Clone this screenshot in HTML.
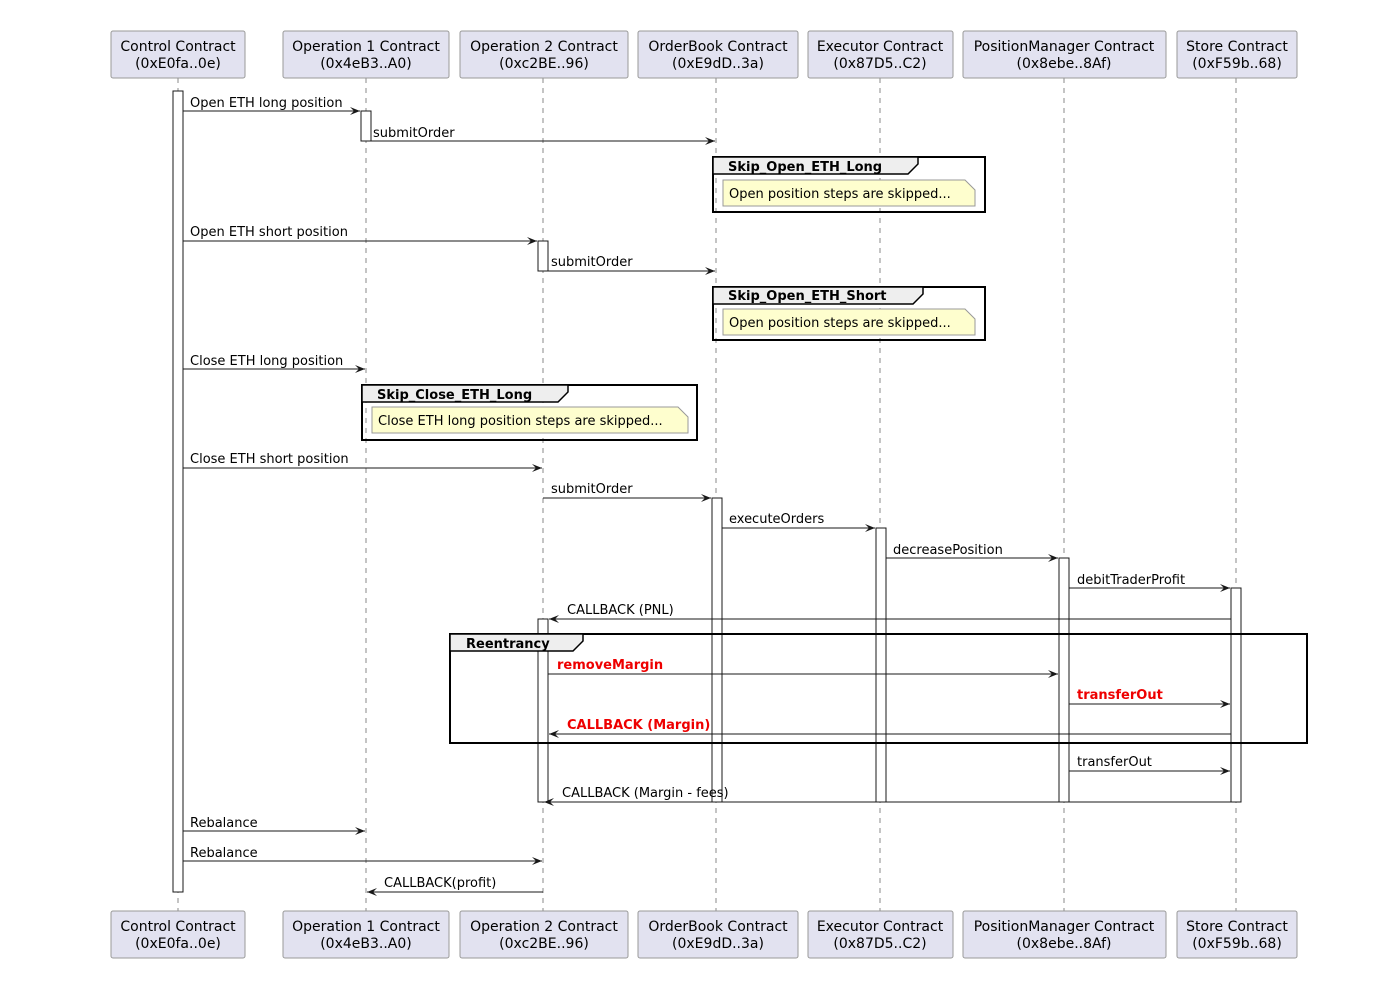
<!DOCTYPE html>
<html><head><meta charset="utf-8"><style>
body{margin:0;background:#fff}
svg{display:block}
text{font-family:"DejaVu Sans","Liberation Sans",sans-serif;font-size:13px;fill:#000}
.hd{font-size:14px;text-anchor:middle}
.b{font-weight:bold}
.r{fill:#e00;font-weight:bold}
</style></head><body>
<svg width="1400" height="996" viewBox="0 0 1400 996" xmlns="http://www.w3.org/2000/svg">
<defs>
<marker id="ar" markerWidth="12" markerHeight="10" refX="10" refY="4" orient="auto" markerUnits="userSpaceOnUse">
<polygon points="0,0 10,4 0,8 4,4" fill="#181818"/></marker>
</defs>
<g stroke="#888" stroke-dasharray="5,5" stroke-width="1">
<line x1="178" y1="78" x2="178" y2="911"/><line x1="366" y1="78" x2="366" y2="911"/>
<line x1="543" y1="78" x2="543" y2="911"/><line x1="716" y1="78" x2="716" y2="911"/>
<line x1="880" y1="78" x2="880" y2="911"/><line x1="1064" y1="78" x2="1064" y2="911"/>
<line x1="1236" y1="78" x2="1236" y2="911"/>
</g>
<g fill="#e2e2f0" stroke="#999" stroke-width="1">
<rect x="111" y="31" width="134" height="47" rx="2"/><rect x="283" y="31" width="166" height="47" rx="2"/>
<rect x="460" y="31" width="168" height="47" rx="2"/><rect x="638" y="31" width="160" height="47" rx="2"/>
<rect x="808" y="31" width="145" height="47" rx="2"/><rect x="963" y="31" width="203" height="47" rx="2"/>
<rect x="1177" y="31" width="120" height="47" rx="2"/>
<rect x="111" y="911" width="134" height="47" rx="2"/><rect x="283" y="911" width="166" height="47" rx="2"/>
<rect x="460" y="911" width="168" height="47" rx="2"/><rect x="638" y="911" width="160" height="47" rx="2"/>
<rect x="808" y="911" width="145" height="47" rx="2"/><rect x="963" y="911" width="203" height="47" rx="2"/>
<rect x="1177" y="911" width="120" height="47" rx="2"/>
</g>
<g class="hd">
<text class="hd" x="178" y="51">Control Contract</text><text class="hd" x="178" y="68">(0xE0fa..0e)</text>
<text class="hd" x="366" y="51">Operation 1 Contract</text><text class="hd" x="366" y="68">(0x4eB3..A0)</text>
<text class="hd" x="544" y="51">Operation 2 Contract</text><text class="hd" x="544" y="68">(0xc2BE..96)</text>
<text class="hd" x="718" y="51">OrderBook Contract</text><text class="hd" x="718" y="68">(0xE9dD..3a)</text>
<text class="hd" x="880" y="51">Executor Contract</text><text class="hd" x="880" y="68">(0x87D5..C2)</text>
<text class="hd" x="1064" y="51">PositionManager Contract</text><text class="hd" x="1064" y="68">(0x8ebe..8Af)</text>
<text class="hd" x="1237" y="51">Store Contract</text><text class="hd" x="1237" y="68">(0xF59b..68)</text>
<text class="hd" x="178" y="931">Control Contract</text><text class="hd" x="178" y="948">(0xE0fa..0e)</text>
<text class="hd" x="366" y="931">Operation 1 Contract</text><text class="hd" x="366" y="948">(0x4eB3..A0)</text>
<text class="hd" x="544" y="931">Operation 2 Contract</text><text class="hd" x="544" y="948">(0xc2BE..96)</text>
<text class="hd" x="718" y="931">OrderBook Contract</text><text class="hd" x="718" y="948">(0xE9dD..3a)</text>
<text class="hd" x="880" y="931">Executor Contract</text><text class="hd" x="880" y="948">(0x87D5..C2)</text>
<text class="hd" x="1064" y="931">PositionManager Contract</text><text class="hd" x="1064" y="948">(0x8ebe..8Af)</text>
<text class="hd" x="1237" y="931">Store Contract</text><text class="hd" x="1237" y="948">(0xF59b..68)</text>
</g>
<g fill="#fff" stroke="#181818" stroke-width="1">
<rect x="173" y="91" width="10" height="801"/>
<rect x="361" y="111" width="10" height="30"/>
<rect x="538" y="241" width="10" height="30"/>
<rect x="712" y="498" width="10" height="304"/>
<rect x="876" y="528" width="10" height="274"/>
<rect x="1059" y="558" width="10" height="244"/>
<rect x="1231" y="588" width="10" height="214"/>
<rect x="538" y="619" width="10" height="183"/>
</g>
<!-- groups -->
<g stroke="#000" stroke-width="2" fill="none">
<rect x="713" y="157" width="272" height="55"/>
<rect x="713" y="287" width="272" height="53"/>
<rect x="362" y="385" width="335" height="55"/>
<rect x="450" y="634" width="857" height="109"/>
</g>
<g fill="#eee" stroke="#000" stroke-width="1.5">
<path d="M713 157 H918 V164 L908 174 H713 Z"/>
<path d="M713 287 H923 V294 L913 304 H713 Z"/>
<path d="M362 385 H568 V392 L558 402 H362 Z"/>
<path d="M450 634 H583 V641 L573 651 H450 Z"/>
</g>
<text class="b" x="728" y="171">Skip_Open_ETH_Long</text>
<text class="b" x="728" y="300">Skip_Open_ETH_Short</text>
<text class="b" x="377" y="399">Skip_Close_ETH_Long</text>
<text class="b" x="466" y="648">Reentrancy</text>
<g fill="#fefece" stroke="#999" stroke-width="1">
<path d="M723 180 H965 L975 190 V206 H723 Z"/>
<path d="M723 309 H965 L975 319 V335 H723 Z"/>
<path d="M372 407 H678 L688 417 V433 H372 Z"/>
</g>
<text x="729" y="198">Open position steps are skipped...</text>
<text x="729" y="327">Open position steps are skipped...</text>
<text x="378" y="425">Close ETH long position steps are skipped...</text>
<!-- messages -->
<g stroke="#181818" stroke-width="1" marker-end="url(#ar)">
<line x1="183" y1="111" x2="360" y2="111"/>
<line x1="371" y1="141" x2="715" y2="141"/>
<line x1="183" y1="241" x2="537" y2="241"/>
<line x1="548" y1="271" x2="715" y2="271"/>
<line x1="183" y1="369" x2="365" y2="369"/>
<line x1="183" y1="468" x2="542" y2="468"/>
<line x1="543" y1="498" x2="711" y2="498"/>
<line x1="722" y1="528" x2="875" y2="528"/>
<line x1="886" y1="558" x2="1058" y2="558"/>
<line x1="1069" y1="588" x2="1230" y2="588"/>
<line x1="1231" y1="619" x2="549" y2="619"/>
<line x1="548" y1="674" x2="1058" y2="674"/>
<line x1="1069" y1="704" x2="1230" y2="704"/>
<line x1="1231" y1="734" x2="549" y2="734"/>
<line x1="1069" y1="771" x2="1230" y2="771"/>
<line x1="1241" y1="802" x2="544" y2="802"/>
<line x1="183" y1="831" x2="365" y2="831"/>
<line x1="183" y1="861" x2="542" y2="861"/>
<line x1="543" y1="892" x2="367" y2="892"/>
</g>
<text x="190" y="107">Open ETH long position</text>
<text x="373" y="137">submitOrder</text>
<text x="190" y="236">Open ETH short position</text>
<text x="551" y="266">submitOrder</text>
<text x="190" y="365">Close ETH long position</text>
<text x="190" y="463">Close ETH short position</text>
<text x="551" y="493">submitOrder</text>
<text x="729" y="523">executeOrders</text>
<text x="893" y="554">decreasePosition</text>
<text x="1077" y="584">debitTraderProfit</text>
<text x="567" y="614">CALLBACK (PNL)</text>
<text class="r" x="557" y="669">removeMargin</text>
<text class="r" x="1077" y="699">transferOut</text>
<text class="r" x="567" y="729">CALLBACK (Margin)</text>
<text x="1077" y="766">transferOut</text>
<text x="562" y="797">CALLBACK (Margin - fees)</text>
<text x="190" y="827">Rebalance</text>
<text x="190" y="857">Rebalance</text>
<text x="384" y="887">CALLBACK(profit)</text>
</svg>
</body></html>
